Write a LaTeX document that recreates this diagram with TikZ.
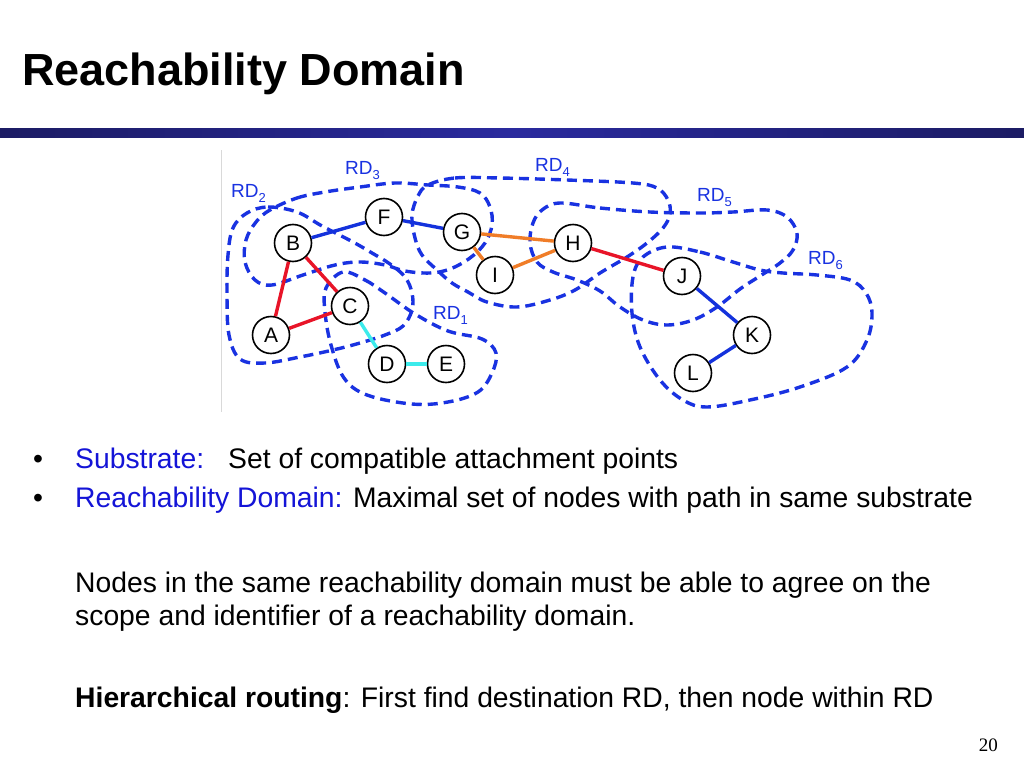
\documentclass[tikz,border=0pt]{standalone}
\usepackage{fontspec}
\setmainfont{Liberation Sans}
\newfontfamily\seriffont{Liberation Serif}
\definecolor{rdblue}{RGB}{25,50,225}
\definecolor{ered}{RGB}{232,20,40}
\definecolor{ecyan}{RGB}{60,235,235}
\definecolor{eblue}{RGB}{20,50,220}
\definecolor{eorange}{RGB}{240,125,40}
\definecolor{txtblue}{RGB}{20,20,215}
\definecolor{bardark}{RGB}{28,28,100}
\definecolor{barmid}{RGB}{42,42,158}
\newcommand{\rdsub}[1]{RD\raisebox{-5.5pt}{\fontsize{13}{13}\selectfont #1}}
\begin{document}
\begin{tikzpicture}[x=1pt,y=-1pt,
  vtx/.style={circle,draw=black,fill=white,line width=1.6pt,minimum size=37pt,inner sep=0pt,font=\fontsize{21}{21}\selectfont},
  rdloop/.style={draw=rdblue,line width=3.4pt,dash pattern=on 10pt off 6pt},
  edg/.style={line width=3.4pt},
  rdlab/.style={anchor=base west,inner sep=0pt,text=rdblue,font=\fontsize{19}{19}\selectfont},
  txt/.style={anchor=base west,inner sep=0pt,font=\fontsize{28.3}{28.3}\selectfont}]
\useasboundingbox (0,0) rectangle (1024,768);
\fill[white] (0,0) rectangle (1024,768);
% title and bar
\node[anchor=base west,inner sep=0pt,font=\bfseries\fontsize{45}{45}\selectfont] (title) at (22,85) {Reachability Domain};
\shade[left color=bardark,right color=bardark,middle color=barmid] (0,128) rectangle (1024,137);
% figure frame line
\draw[black!15,line width=1pt] (221,150) -- (221,412);
% reachability domain loops
% RD1
\draw[rdloop] plot[smooth cycle,tension=0.6] coordinates {(343,272) (365,280) (385,293) (415,314) (448,331) (482,339) (496,353) (492,373) (478,392) (448,402) (412,404) (367,395) (344,378) (331,345) (325,312) (326,288)};
% RD2
\draw[rdloop] plot[smooth cycle,tension=0.6] coordinates {(247,213) (268,207) (297,212) (322,226) (353,242) (372,253) (390,264) (405,277) (412,293) (412,310) (403,326) (385,335) (360,343) (333,350) (300,357) (265,363) (240,359) (229,335) (227,295) (228,255) (233,228)};
% RD3
\draw[rdloop] plot[smooth cycle,tension=0.6] coordinates {(270,210) (297,198) (325,192) (360,187) (395,183) (428,185) (458,187) (480,193) (490,207) (492,225) (485,243) (470,258) (450,269) (430,273) (405,271) (385,265) (360,262) (335,265) (303,275) (272,285) (255,280) (245,262) (246,240) (256,222)};
% RD4
\draw[rdloop] plot[smooth cycle,tension=0.6] coordinates {(428,185) (455,178) (500,178) (567,180) (633,183) (657,188) (668,200) (670,214) (663,228) (647,243) (627,257) (600,273) (575,290) (550,300) (517,307) (487,302) (468,292) (452,283) (437,270) (422,255) (415,238) (412,215) (418,196)};
% RD5
\draw[rdloop] plot[smooth cycle,tension=0.6] coordinates {(560,203) (600,208) (650,212) (700,213) (733,212) (767,210) (787,217) (797,233) (793,250) (780,263) (760,276) (740,289) (717,307) (693,320) (667,325) (643,320) (620,307) (600,291) (577,280) (553,272) (537,262) (530,243) (533,223) (542,210)};
% RD6
\draw[rdloop] plot[smooth cycle,tension=0.6] coordinates {(667,247) (700,252) (733,262) (760,270) (783,273) (817,275) (850,280) (866,293) (872,313) (867,340) (847,367) (800,387) (750,400) (707,407) (683,400) (660,380) (640,347) (632,313) (633,277) (643,257)};
% loop labels
\node[rdlab] (l1) at (433,319) {\rdsub{1}};
\node[rdlab] (l2) at (231,197) {\rdsub{2}};
\node[rdlab] (l3) at (345,174) {\rdsub{3}};
\node[rdlab] (l4) at (535,171) {\rdsub{4}};
\node[rdlab] (l5) at (697,201) {\rdsub{5}};
\node[rdlab] (l6) at (808,264) {\rdsub{6}};
% nodes
\node[vtx] (A) at (271,335) {A};
\node[vtx] (B) at (293,243) {B};
\node[vtx] (C) at (350,306) {C};
\node[vtx] (D) at (387,364) {D};
\node[vtx] (E) at (446,364) {E};
\node[vtx] (F) at (384,217) {F};
\node[vtx] (G) at (462,232) {G};
\node[vtx] (H) at (573,243) {H};
\node[vtx] (I) at (495,275) {I};
\node[vtx] (J) at (682,276) {J};
\node[vtx] (K) at (752,335) {K};
\node[vtx] (L) at (693,373) {L};
% edges
\draw[edg,ered] (A) -- (B);
\draw[edg,ered] (B) -- (C);
\draw[edg,ered] (A) -- (C);
\draw[edg,ered] (H) -- (J);
\draw[edg,ecyan] (C) -- (D);
\draw[edg,ecyan] (D) -- (E);
\draw[edg,eblue] (B) -- (F);
\draw[edg,eblue] (F) -- (G);
\draw[edg,eblue] (J) -- (K);
\draw[edg,eblue] (K) -- (L);
\draw[edg,eorange] (G) -- (H);
\draw[edg,eorange] (G) -- (I);
\draw[edg,eorange] (I) -- (H);
% text
\node[txt] (b1) at (33,468) {•};
\node[txt,text=txtblue] (t1a) at (75,468) {Substrate:};
\node[txt] (t1b) at (228,468) {Set of compatible attachment points};
\node[txt] (b2) at (33,507) {•};
\node[txt] (t2) at (75,507) {\textcolor{txtblue}{Reachability Domain:} Maximal set of nodes with path in same substrate};
\node[txt] (t3) at (75,592) {Nodes in the same reachability domain must be able to agree on the};
\node[txt] (t4) at (75,625) {scope and identifier of a reachability domain.};
\node[txt] (t5) at (75,707) {\textbf{Hierarchical routing}: First find destination RD, then node within RD};
\node[anchor=base east,inner sep=0pt,font=\seriffont\fontsize{19}{19}\selectfont] (pg) at (998,751) {20};
\end{tikzpicture}
\end{document}
